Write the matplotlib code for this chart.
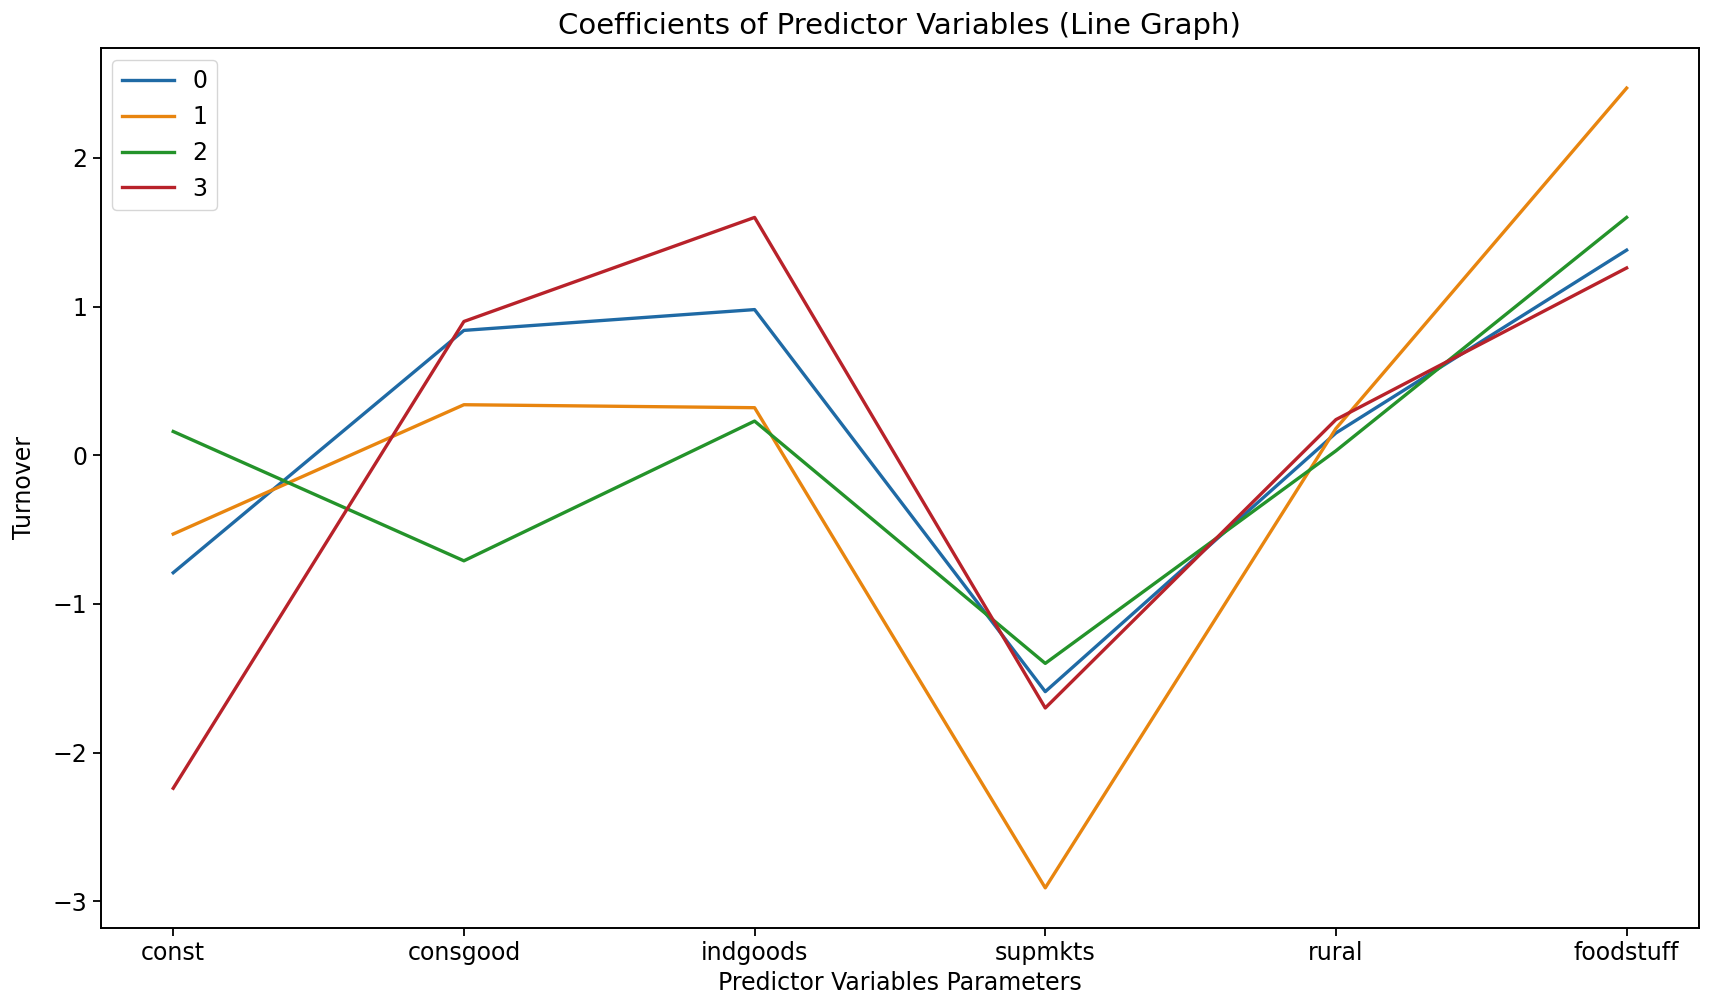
import matplotlib
matplotlib.use("Agg")
import matplotlib.pyplot as plt

# Predictor variable names along the x axis
predictors = ["const", "consgood", "indgoods", "supmkts", "rural", "foodstuff"]

# Coefficients for each of the four series
coef_0 = [-0.79, 0.84, 0.98, -1.59, 0.15, 1.38]
coef_1 = [-0.53, 0.34, 0.32, -2.91, 0.18, 2.47]
coef_2 = [0.16, -0.71, 0.23, -1.40, 0.03, 1.60]
coef_3 = [-2.24, 0.90, 1.60, -1.70, 0.24, 1.26]

series_labels = ["0", "1", "2", "3"]
series = [coef_0, coef_1, coef_2, coef_3]
colors = ["#1f6aa5", "#e8850f", "#24932a", "#b8222a"]

fig = plt.figure(figsize=(17.13, 10.02), dpi=100)
ax = fig.add_axes([0.0587, 0.074, 0.9333, 0.878])

x = range(len(predictors))
for label, values, color in zip(series_labels, series, colors):
    ax.plot(x, values, color=color, linewidth=2.4, label=label)

ax.set_xticks(list(x))
ax.set_xticklabels(predictors, fontsize=17)
ax.tick_params(axis="y", labelsize=17)
ax.tick_params(length=6, width=1.3)
for spine in ax.spines.values():
    spine.set_linewidth(1.4)

ax.set_title("Coefficients of Predictor Variables (Line Graph)", fontsize=21, pad=10)
ax.set_xlabel("Predictor Variables Parameters", fontsize=17)
ax.set_ylabel("Turnover", fontsize=17, labelpad=12)
ax.legend(loc="upper left", fontsize=17, handlelength=2.2)

fig.savefig("out.png", dpi=100)
